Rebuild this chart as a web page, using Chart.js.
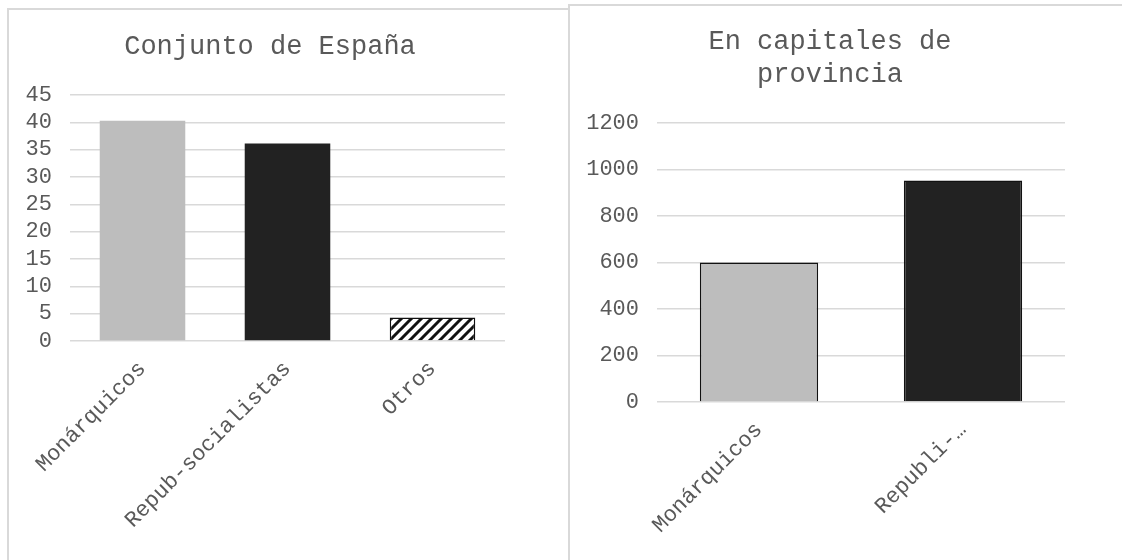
<!DOCTYPE html>
<html>
<head>
<meta charset="utf-8">
<script src="https://cdn.jsdelivr.net/npm/chart.js@4"></script>
<style>
  body { margin: 0; background: #fff; width: 1122px; height: 560px; overflow: hidden; position: relative; }
  .panel { position: absolute; border: 2px solid #d9d9d9; box-sizing: border-box; background: #fff; }
  #p1 { left: 7px; top: 8px; width: 564px; height: 560px; border-right: none; }
  #p2 { left: 568px; top: 4px; width: 560px; height: 560px; }
  canvas { position: absolute; }
</style>
</head>
<body>
<div class="panel" id="p1"></div>
<div class="panel" id="p2"></div>
<canvas id="c1" style="left:10px;top:10px;width:550px;height:545px"></canvas>
<canvas id="c2" style="left:572px;top:6px;width:548px;height:549px"></canvas>
<script>
// Conjunto de España (%)
const espanaLabels = ["Monárquicos", "Repub-socialistas", "Otros"];
const espanaValues = [40.3, 36.1, 4.3];
// En capitales de provincia
const capitalesLabels = ["Monárquicos", "Republi-…"];
const capitalesValues = [600, 952];

const FONT = "'Liberation Mono', monospace";
const GREY = "#bdbdbd";
const DARK = "#222222";
const TEXT = "#595959";
const GRID = "#d9d9d9";

// hatch for "Otros"
function hatch() {
  const c = document.createElement("canvas");
  c.width = 10; c.height = 10;
  const g = c.getContext("2d");
  g.fillStyle = "#fff";
  g.fillRect(0, 0, 10, 10);
  g.strokeStyle = "#111";
  g.lineWidth = 3;
  g.beginPath();
  g.moveTo(-2, 12); g.lineTo(12, -2);
  g.moveTo(-7, 7); g.lineTo(7, -7);
  g.moveTo(3, 17); g.lineTo(17, 3);
  g.stroke();
  return g.createPattern(c, "repeat");
}

function makeChart(id, labels, values, opts) {
  return new Chart(document.getElementById(id), {
    type: 'bar',
    data: {
      labels: labels,
      datasets: [{
        data: values,
        backgroundColor: opts.colors,
        borderColor: "#111",
        borderWidth: opts.borders,
        borderSkipped: 'bottom',
        categoryPercentage: 1,
        barPercentage: opts.barPct
      }]
    },
    options: {
      responsive: false,
      animation: false,
      layout: { padding: { left: 0, right: opts.padRight, top: 0, bottom: 0 } },
      plugins: {
        legend: { display: false },
        tooltip: { enabled: false },
        title: {
          display: true,
          text: opts.title,
          color: TEXT,
          font: { family: FONT, size: 27, weight: 'normal', lineHeight: 1.22 },
          padding: { top: opts.titleTop, bottom: opts.titleBottom }
        }
      },
      scales: {
        x: {
          grid: { display: false },
          border: { display: false },
          ticks: {
            color: TEXT,
            font: { family: FONT, size: 22 },
            minRotation: 45,
            maxRotation: 45,
            autoSkip: false,
            padding: 7
          },
          afterFit: s => { s.height = opts.xHeight; }
        },
        y: {
          min: 0,
          max: opts.max,
          grid: { color: GRID, lineWidth: 1.5, drawTicks: false },
          border: { display: false },
          ticks: {
            stepSize: opts.step,
            autoSkip: false,
            color: TEXT,
            font: { family: FONT, size: 22 },
            padding: 18,
            callback: v => String(v)
          },
          afterFit: s => { s.width = opts.yWidth; }
        },
        // empty spacer on the right so the title sits where the original has it
        spacer: {
          type: 'linear',
          position: 'right',
          grid: { display: false },
          border: { display: false },
          ticks: { display: false },
          afterFit: s => { s.width = opts.spacer; }
        }
      }
    }
  });
}

const c1 = document.getElementById("c1");
c1.width = 550; c1.height = 545;
const c2 = document.getElementById("c2");
c2.width = 548; c2.height = 549;

makeChart("c1", espanaLabels, espanaValues, {
  title: "Conjunto de España",
  colors: [GREY, DARK, hatch()],
  borders: [0, 0, 1.5],
  barPct: 0.59,
  max: 45, step: 5,
  yWidth: 60, xHeight: 214, padRight: 30, spacer: 25,
  titleTop: 20, titleBottom: 32
});

makeChart("c2", capitalesLabels, capitalesValues, {
  title: ["En capitales de", "provincia"],
  colors: [GREY, DARK],
  borders: [1.5, 1.5],
  barPct: 0.58,
  max: 1200, step: 200,
  yWidth: 85, xHeight: 153, padRight: 32, spacer: 23,
  titleTop: 19, titleBottom: 32
});
</script>
</body>
</html>
